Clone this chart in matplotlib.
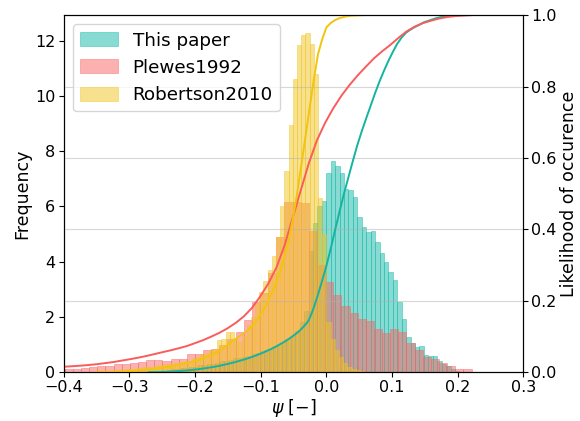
import numpy as np
import matplotlib
matplotlib.use("Agg")
import matplotlib.pyplot as plt

# histogram densities (left edge of first bin, bin width, heights)
labels = ["This paper", "Plewes1992", "Robertson2010"]

paper_start = -0.2704
paper_width = 0.00676
paper_density = [
    0.03, 0.04, 0.05, 0.06, 0.08, 0.1, 0.1, 0.15, 0.15, 0.2, 0.2,
    0.25, 0.25, 0.3, 0.3, 0.35, 0.4, 0.4, 0.45, 0.5, 0.5, 0.55, 0.6, 0.65, 0.7,
    0.75, 0.8, 0.85, 0.95, 1.0, 1.1, 1.2, 1.3, 1.5, 1.8, 2.2, 4.4, 5.4, 6.0, 6.2,
    7.2, 7.66, 7.45, 7.2, 6.63, 6.6, 6.35, 5.61, 5.24, 5.07, 5.1, 4.73, 4.31, 3.99,
    3.63, 3.33, 2.54, 1.94, 1.28, 1.04, 0.92, 0.94, 0.61, 0.6, 0.58, 0.42, 0.3,
    0.22, 0.12, 0.05,
]

plewes_start = -0.6342
plewes_width = 0.0124
plewes_density = [
    0.01, 0.02, 0.02, 0.03, 0.03, 0.04, 0.05, 0.05, 0.06, 0.07, 0.07, 0.08,
    0.08, 0.09, 0.09, 0.1, 0.1, 0.11,
    0.12, 0.12, 0.12, 0.15, 0.18, 0.24, 0.24, 0.31, 0.31, 0.34, 0.37, 0.43,
    0.43, 0.41, 0.47, 0.49, 0.65, 0.67, 0.79, 0.85,
    1.0, 1.2, 1.46, 1.88, 2.53, 2.87, 3.59, 4.9, 6.18, 6.18, 6.12, 5.13, 3.89,
    3.25, 2.8, 2.41, 2.14, 1.94, 1.87, 1.57, 1.42, 1.57, 1.45, 1.06, 0.8, 0.55,
    0.48, 0.34, 0.22, 0.1, 0.1,
]

robertson_start = -0.3518
robertson_width = 0.0064
robertson_density = [
    0.02, 0.03, 0.04, 0.05, 0.06, 0.07, 0.08, 0.1, 0.12, 0.13, 0.15, 0.17,
    0.18, 0.2, 0.22, 0.25, 0.28, 0.3, 0.32, 0.35, 0.38, 0.4, 0.42,
    0.5, 0.55, 0.65, 0.7, 0.8, 0.85, 1.15, 1.2, 1.45, 1.45, 1.2, 1.1, 1.3, 1.7,
    2.0, 2.5, 2.9, 3.3, 3.7, 4.2,
    4.9, 6.0, 7.3, 8.95, 10.6, 11.84, 12.2, 12.3,
    11.9, 10.8, 6.3, 5.0,
    1.8, 1.2, 0.8, 0.55, 0.35, 0.2, 0.12, 0.08, 0.05,
]

bar_colors = ["#10b9a8", "#fa6464", "#f0c41e"]
line_colors = ["#14b4a0", "#fa5c5c", "#f2c40c"]

datasets = [
    (paper_start, paper_width, paper_density),
    (plewes_start, plewes_width, plewes_density),
    (robertson_start, robertson_width, robertson_density),
]

fig = plt.figure(figsize=(5.8, 4.21), dpi=100)
ax1 = fig.add_subplot(111)
fig.subplots_adjust(left=0.110, right=0.902, top=0.964, bottom=0.116)
ax2 = ax1.twinx()

handles = []
for (start, width, dens), bc, lc, lab in zip(datasets, bar_colors, line_colors, labels):
    dens = np.array(dens)
    edges = start + width * np.arange(len(dens) + 1)
    bars = ax1.bar(edges[:-1], dens, width=width, align="edge", color=bc,
                   alpha=0.5, edgecolor=bc, linewidth=0.6, label=lab)
    handles.append(bars)
    # cumulative curve from the same bins
    cdf = np.concatenate([[0], np.cumsum(dens * width)])
    cdf = cdf / cdf[-1]
    ax2.plot(edges, cdf, color=lc, lw=1.4)

ax1.set_xlim(-0.4, 0.3)
ax1.set_ylim(0, 12.93)
ax2.set_ylim(0, 1.0)
ax1.set_yticks(np.arange(0, 13, 2))
ax2.set_yticks(np.arange(0, 1.01, 0.2))
ax1.set_xticks(np.arange(-0.4, 0.31, 0.1))

ax2.grid(True, color="#b0b0b0", alpha=0.5, lw=0.8)
ax1.tick_params(labelsize=11.5, pad=2.5)
ax2.tick_params(labelsize=11.5, pad=2.5)
ax1.set_xlabel(r"$\psi$ [$-$]", fontsize=12.5, labelpad=1)
ax1.set_ylabel("Frequency", fontsize=12.5, labelpad=3)
ax2.set_ylabel("Likelihood of occurence", fontsize=12.5, labelpad=2)

ax2.legend(handles, labels, loc="upper left", fontsize=13.2,
           handlelength=2.05, handleheight=0.8)

fig.savefig("out.png", dpi=100)
